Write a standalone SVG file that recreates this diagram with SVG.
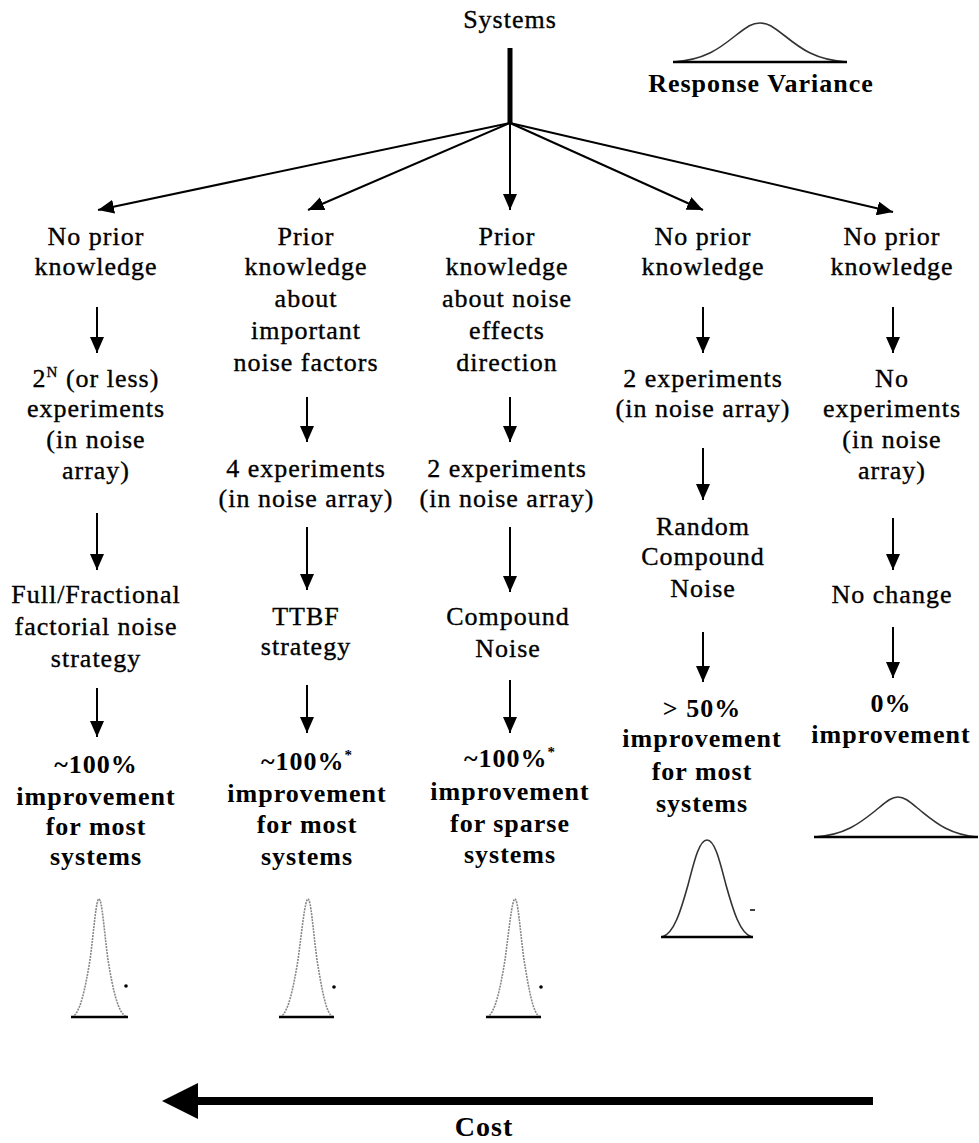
<svg xmlns="http://www.w3.org/2000/svg" width="979" height="1143" viewBox="0 0 979 1143" font-family="'Liberation Serif', 'Times New Roman', Times, serif">
  <style>
    text { font-family: "Liberation Serif", "Times New Roman", Times, serif; fill: #000; text-anchor: middle; }
    .r { font-size: 26px; letter-spacing: 1px; stroke: #000; stroke-width: 0.35px; }
    .b { font-size: 26px; font-weight: bold; letter-spacing: 1px; }
    .sup { font-size: 15px; }
    .conn { stroke: #000; stroke-width: 2; fill: none; }
    .bell { fill: none; stroke: #333; stroke-width: 1.6; }
    .bell-light { fill: none; stroke: #888; stroke-width: 1.6; stroke-dasharray: 2 1; }
    .base { stroke: #000; stroke-width: 2.5; }
  </style>
  <defs>
    <marker id="ah" viewBox="0 0 16 14" refX="16" refY="7" markerWidth="16" markerHeight="14" markerUnits="userSpaceOnUse" orient="auto">
      <path d="M0,0 L16,7 L0,14 z" fill="#000"/>
    </marker>
  </defs>
  <rect width="979" height="1143" fill="#fff"/>

  <!-- root -->
  <g id="systems">
    <text class="r" x="510" y="28">Systems</text>
  </g>

  <!-- legend -->
  <g id="legend">
    <path class="bell" d="M673,62 C705,60 720,48 735,36 C748,26 752,23 760,23 C768,23 772,26 785,36 C800,48 815,60 847,62"/>
    <line class="base" x1="673" y1="62" x2="847" y2="62"/>
    <text class="b" x="761" y="92">Response Variance</text>
  </g>

  <!-- connectors -->
  <g id="connectors">
    <line x1="510" y1="48" x2="510" y2="124" stroke="#000" stroke-width="5"/>
    <line class="conn" x1="510" y1="123" x2="98" y2="210" marker-end="url(#ah)"/>
    <line class="conn" x1="510" y1="123" x2="308" y2="210" marker-end="url(#ah)"/>
    <line class="conn" x1="510" y1="123" x2="510" y2="210" marker-end="url(#ah)"/>
    <line class="conn" x1="510" y1="123" x2="703" y2="210" marker-end="url(#ah)"/>
    <line class="conn" x1="510" y1="123" x2="893" y2="212" marker-end="url(#ah)"/>

    <!-- column 1 -->
    <line class="conn" x1="97" y1="307" x2="97" y2="353" marker-end="url(#ah)"/>
    <line class="conn" x1="97" y1="513" x2="97" y2="570" marker-end="url(#ah)"/>
    <line class="conn" x1="97" y1="688" x2="97" y2="737" marker-end="url(#ah)"/>
    <!-- column 2 -->
    <line class="conn" x1="307" y1="397" x2="307" y2="442" marker-end="url(#ah)"/>
    <line class="conn" x1="307" y1="527" x2="307" y2="590" marker-end="url(#ah)"/>
    <line class="conn" x1="307" y1="685" x2="307" y2="733" marker-end="url(#ah)"/>
    <!-- column 3 -->
    <line class="conn" x1="510" y1="397" x2="510" y2="442" marker-end="url(#ah)"/>
    <line class="conn" x1="510" y1="527" x2="510" y2="592" marker-end="url(#ah)"/>
    <line class="conn" x1="510" y1="680" x2="510" y2="733" marker-end="url(#ah)"/>
    <!-- column 4 -->
    <line class="conn" x1="703" y1="307" x2="703" y2="353" marker-end="url(#ah)"/>
    <line class="conn" x1="703" y1="448" x2="703" y2="500" marker-end="url(#ah)"/>
    <line class="conn" x1="703" y1="632" x2="703" y2="682" marker-end="url(#ah)"/>
    <!-- column 5 -->
    <line class="conn" x1="893" y1="307" x2="893" y2="353" marker-end="url(#ah)"/>
    <line class="conn" x1="893" y1="518" x2="893" y2="570" marker-end="url(#ah)"/>
    <line class="conn" x1="893" y1="627" x2="893" y2="678" marker-end="url(#ah)"/>
  </g>

  <!-- column 1: full / fractional factorial -->
  <g id="col1-knowledge"><text class="r" x="96" y="245">No prior</text><text class="r" x="96" y="275">knowledge</text></g>
  <g id="col1-experiments">
    <text class="r" x="96" y="387">2<tspan class="sup" dy="-10">N</tspan><tspan dy="10"> (or less)</tspan></text>
    <text class="r" x="96" y="417">experiments</text>
    <text class="r" x="96" y="448">(in noise</text>
    <text class="r" x="96" y="479">array)</text>
  </g>
  <g id="col1-strategy">
    <text class="r" x="96" y="603">Full/Fractional</text>
    <text class="r" x="96" y="635">factorial noise</text>
    <text class="r" x="96" y="667">strategy</text>
  </g>
  <g id="col1-result">
    <text class="b" x="96" y="773">~100%</text>
    <text class="b" x="96" y="805">improvement</text>
    <text class="b" x="96" y="835">for most</text>
    <text class="b" x="96" y="865">systems</text>
  </g>
  <g id="col1-variance">
    <path class="bell-light" d="M72,1017 C80,1014 85,990 90,960 C94,930 96,899 99,899 C102,899 104,930 108,960 C113,990 118,1014 127,1017"/>
    <line class="base" x1="71" y1="1017" x2="128" y2="1017"/>
    <circle cx="126" cy="986" r="1.8"/>
  </g>

  <!-- column 2: TTBF -->
  <g id="col2-knowledge">
    <text class="r" x="306" y="245">Prior</text>
    <text class="r" x="306" y="275">knowledge</text>
    <text class="r" x="306" y="307">about</text>
    <text class="r" x="306" y="339">important</text>
    <text class="r" x="306" y="371">noise factors</text>
  </g>
  <g id="col2-experiments">
    <text class="r" x="306" y="477">4 experiments</text>
    <text class="r" x="306" y="507">(in noise array)</text>
  </g>
  <g id="col2-strategy">
    <text class="r" x="306" y="625">TTBF</text>
    <text class="r" x="306" y="655">strategy</text>
  </g>
  <g id="col2-result">
    <text class="b" x="307" y="770">~100%<tspan class="sup" dy="-10">*</tspan></text>
    <text class="b" x="307" y="802">improvement</text>
    <text class="b" x="307" y="833">for most</text>
    <text class="b" x="307" y="865">systems</text>
  </g>
  <g id="col2-variance">
    <path class="bell-light" d="M280,1017 C288,1014 293,990 298,960 C302,930 305,899 308,899 C311,899 313,930 317,960 C322,990 326,1014 333,1017"/>
    <line class="base" x1="279" y1="1017" x2="334" y2="1017"/>
    <circle cx="334" cy="987" r="1.8"/>
  </g>

  <!-- column 3: compound noise -->
  <g id="col3-knowledge">
    <text class="r" x="507" y="245">Prior</text>
    <text class="r" x="507" y="275">knowledge</text>
    <text class="r" x="507" y="307">about noise</text>
    <text class="r" x="507" y="339">effects</text>
    <text class="r" x="507" y="371">direction</text>
  </g>
  <g id="col3-experiments">
    <text class="r" x="507" y="477">2 experiments</text>
    <text class="r" x="507" y="507">(in noise array)</text>
  </g>
  <g id="col3-strategy">
    <text class="r" x="508" y="625">Compound</text>
    <text class="r" x="508" y="657">Noise</text>
  </g>
  <g id="col3-result">
    <text class="b" x="510" y="767">~100%<tspan class="sup" dy="-10">*</tspan></text>
    <text class="b" x="510" y="800">improvement</text>
    <text class="b" x="510" y="832">for sparse</text>
    <text class="b" x="510" y="863">systems</text>
  </g>
  <g id="col3-variance">
    <path class="bell-light" d="M487,1017 C495,1014 500,990 505,960 C509,930 512,899 515,899 C518,899 520,930 524,960 C529,990 533,1014 540,1017"/>
    <line class="base" x1="486" y1="1017" x2="541" y2="1017"/>
    <circle cx="541" cy="987" r="1.8"/>
  </g>

  <!-- column 4: random compound noise -->
  <g id="col4-knowledge"><text class="r" x="703" y="245">No prior</text><text class="r" x="703" y="275">knowledge</text></g>
  <g id="col4-experiments">
    <text class="r" x="703" y="387">2 experiments</text>
    <text class="r" x="703" y="417">(in noise array)</text>
  </g>
  <g id="col4-strategy">
    <text class="r" x="703" y="535">Random</text>
    <text class="r" x="703" y="565">Compound</text>
    <text class="r" x="703" y="597">Noise</text>
  </g>
  <g id="col4-result">
    <text class="b" x="702" y="717">&gt; 50%</text>
    <text class="b" x="702" y="747">improvement</text>
    <text class="b" x="702" y="780">for most</text>
    <text class="b" x="702" y="812">systems</text>
  </g>
  <g id="col4-variance">
    <path class="bell" d="M662,937 C674,934 681,910 688,885 C694,862 699,840 707,840 C715,840 720,862 726,885 C733,910 740,934 752,937"/>
    <line class="base" x1="661" y1="937" x2="753" y2="937"/>
    <line x1="750" y1="910" x2="755" y2="910" stroke="#000" stroke-width="1.5"/>
  </g>

  <!-- column 5: no noise experiments -->
  <g id="col5-knowledge"><text class="r" x="892" y="245">No prior</text><text class="r" x="892" y="275">knowledge</text></g>
  <g id="col5-experiments">
    <text class="r" x="892" y="387">No</text>
    <text class="r" x="892" y="417">experiments</text>
    <text class="r" x="892" y="448">(in noise</text>
    <text class="r" x="892" y="479">array)</text>
  </g>
  <g id="col5-strategy"><text class="r" x="892" y="603">No change</text></g>
  <g id="col5-result">
    <text class="b" x="891" y="712">0%</text>
    <text class="b" x="891" y="743">improvement</text>
  </g>
  <g id="col5-variance">
    <path class="bell" d="M815,837 C845,835 860,823 875,811 C886,802 891,797 898,797 C905,797 910,802 921,811 C936,823 950,835 978,837"/>
    <line class="base" x1="814" y1="837" x2="978" y2="837"/>
  </g>

  <!-- cost axis -->
  <g id="cost">
    <line x1="197" y1="1101" x2="873" y2="1101" stroke="#000" stroke-width="8"/>
    <polygon points="162,1101 198,1083 198,1119" fill="#000"/>
    <text x="484" y="1136" style="font-size:28px;font-weight:bold;letter-spacing:1px">Cost</text>
  </g>
</svg>
